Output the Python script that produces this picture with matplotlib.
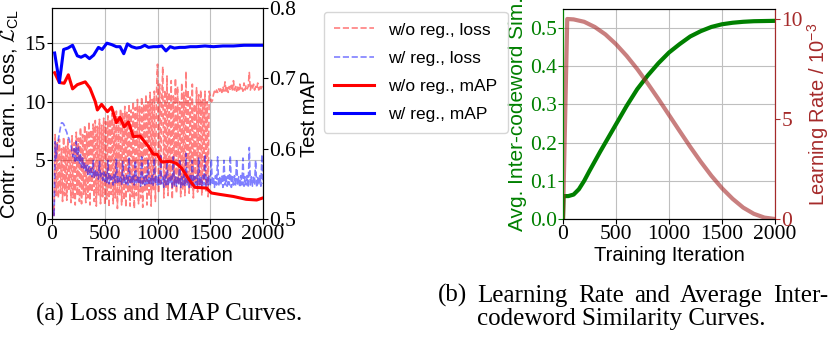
import numpy as np
import matplotlib
matplotlib.use("Agg")
import matplotlib.pyplot as plt

SANS = "Liberation Sans"
SERIF = "Liberation Serif"
plt.rcParams["font.family"] = SERIF
plt.rcParams["mathtext.fontset"] = "custom"
plt.rcParams["mathtext.rm"] = SANS
plt.rcParams["mathtext.it"] = SANS + ":italic"
plt.rcParams["mathtext.cal"] = "cmsy10"

# ---- (a) loss / mAP curves ----
loss_iters = np.arange(0, 2001, 10)

loss_noreg = [
    0.6, 1.0, 0.3, 7.2, 2.0, 6.5, 1.8, 6.8, 2.2, 6.0,
    1.5, 7.0, 2.0, 6.2, 1.6, 6.8, 2.4, 5.9, 1.4, 7.1,
    1.8, 6.5, 1.2, 7.4, 2.0, 6.9, 1.5, 7.8, 1.3, 7.2,
    2.1, 8.0, 1.4, 7.5, 1.8, 8.3, 1.2, 7.6, 2.3, 8.1,
    1.5, 8.4, 1.1, 7.9, 2.0, 8.5, 1.3, 8.0, 1.9, 8.6,
    1.2, 8.3, 1.7, 8.8, 1.0, 8.5, 2.1, 9.0, 1.3, 8.7,
    1.8, 9.2, 0.9, 8.8, 2.0, 9.4, 1.2, 9.0, 1.6, 9.6,
    1.0, 9.1, 2.2, 9.8, 1.1, 9.3, 1.9, 10.0, 0.9, 9.5,
    2.0, 10.2, 1.3, 9.6, 1.8, 10.4, 1.0, 9.8, 2.3, 10.6,
    1.2, 10.0, 1.9, 10.8, 1.1, 10.2, 2.4, 10.9, 1.5, 10.5,
    13.2, 2.2, 11.5, 3.0, 10.2, 13.0, 1.8, 11.0, 2.6, 12.2,
    2.0, 10.8, 3.2, 11.8, 1.7, 10.5, 2.8, 12.0, 2.2, 11.3,
    3.0, 10.0, 1.9, 11.6, 2.5, 10.8, 2.0, 12.6, 3.1, 11.0,
    2.2, 10.4, 2.7, 11.5, 1.8, 9.8, 3.0, 11.2, 2.3, 10.6,
    2.8, 11.0, 2.0, 10.2, 3.2, 10.9, 2.4, 10.0, 1.9, 10.9,
    10.4, 10.0, 10.1, 10.6, 10.9, 10.7, 11.0, 10.8, 11.1, 10.9,
    11.2, 10.8, 11.3, 10.9, 11.7, 10.9, 11.2, 10.8, 11.3, 11.0,
    11.4, 10.9, 11.8, 11.0, 11.3, 10.9, 11.4, 11.0, 11.5, 11.1,
    11.3, 10.9, 11.6, 11.0, 11.4, 11.1, 11.3, 12.5, 11.0, 11.4,
    11.1, 11.5, 11.0, 11.3, 11.1, 11.6, 11.0, 11.4, 11.1, 11.3,
    11.2,
]

loss_reg = [
    1.5, 0.8, 0.2, 6.6, 5.2, 6.3, 6.8, 7.3, 7.8, 8.2,
    8.2, 8.1, 7.9, 7.6, 7.4, 7.0, 6.9, 6.5, 6.3, 5.7,
    5.3, 6.0, 4.8, 6.6, 5.0, 6.2, 4.7, 5.5, 4.4, 5.2,
    4.2, 4.8, 4.0, 4.6, 3.8, 4.5, 3.8, 4.3, 3.6, 5.0,
    3.5, 4.2, 3.6, 4.0, 3.4, 4.9, 3.5, 3.9, 3.3, 4.0,
    3.2, 3.8, 3.1, 5.0, 3.0, 3.7, 3.2, 3.6, 2.9, 3.8,
    3.1, 5.1, 3.0, 3.6, 3.2, 3.7, 2.9, 4.9, 3.1, 3.6,
    3.0, 3.7, 2.9, 5.2, 3.1, 3.6, 3.0, 3.8, 2.9, 5.0,
    3.1, 3.6, 3.0, 3.7, 2.8, 5.3, 3.0, 3.6, 2.9, 3.7,
    3.0, 5.1, 2.9, 3.6, 3.0, 3.7, 2.8, 5.2, 3.0, 3.6,
    2.9, 3.7, 2.8, 5.4, 3.0, 3.6, 2.7, 3.8, 2.9, 5.0,
    2.8, 3.6, 3.0, 3.7, 2.7, 5.3, 2.9, 3.6, 2.8, 3.7,
    2.9, 5.1, 2.7, 3.6, 2.9, 3.8, 2.8, 5.6, 2.9, 3.6,
    2.7, 3.7, 2.9, 5.0, 2.8, 3.6, 2.9, 3.7, 2.7, 5.2,
    2.9, 3.6, 2.8, 3.7, 2.9, 5.5, 2.7, 3.6, 2.9, 3.7,
    2.8, 5.1, 2.9, 3.6, 2.7, 3.7, 2.9, 5.3, 2.8, 3.6,
    2.9, 3.7, 2.7, 5.0, 2.9, 3.6, 2.8, 3.7, 2.9, 5.4,
    2.7, 3.6, 2.9, 3.7, 2.8, 5.1, 2.9, 3.6, 2.7, 3.7,
    2.9, 5.2, 2.8, 3.6, 2.9, 3.7, 2.7, 6.1, 2.9, 3.6,
    2.8, 3.7, 2.9, 5.0, 2.7, 3.6, 2.9, 3.7, 2.8, 5.5,
    3.0,
]

map_reg_iters = [25, 70, 110, 150, 195, 240, 275, 315, 355, 395, 440, 475, 520,
                 565, 610, 645, 680, 715, 755, 800, 840, 880, 915, 960, 1000,
                 1040, 1080, 1120, 1160, 1210, 1260, 1310, 1370, 1450, 1530,
                 1620, 1720, 1820, 1910, 2000]
map_reg = [0.736, 0.694, 0.741, 0.743, 0.747, 0.732, 0.730, 0.733, 0.728, 0.733,
           0.744, 0.741, 0.750, 0.748, 0.745, 0.745, 0.735, 0.749, 0.745, 0.743,
           0.744, 0.747, 0.744, 0.745, 0.745, 0.746, 0.739, 0.745, 0.743, 0.744,
           0.744, 0.745, 0.745, 0.746, 0.745, 0.746, 0.746, 0.747, 0.747, 0.747]

map_noreg_iters = [25, 70, 115, 155, 195, 240, 315, 360, 410, 430, 470, 525, 565,
                   610, 645, 685, 725, 770, 835, 915, 960, 995, 1040, 1120, 1180,
                   1230, 1290, 1355, 1465, 1510, 1590, 1720, 1840, 1940, 2000]
map_noreg = [0.708, 0.694, 0.693, 0.705, 0.685, 0.691, 0.695, 0.686, 0.667, 0.655,
             0.663, 0.6525, 0.659, 0.637, 0.6445, 0.631, 0.638, 0.617, 0.618, 0.603,
             0.592, 0.592, 0.581, 0.582, 0.579, 0.572, 0.558, 0.545, 0.544, 0.537,
             0.535, 0.532, 0.528, 0.527, 0.530]

# ---- (b) learning rate / codeword similarity ----
lr_iters = [0, 40, 100, 200, 300, 400, 500, 600, 700, 800, 900, 1000, 1100,
            1200, 1300, 1400, 1500, 1600, 1700, 1800, 1900, 2000]
lr = [0.0, 10.0, 9.98, 9.86, 9.60, 9.23, 8.74, 8.16, 7.50, 6.77, 6.00, 5.20,
      4.40, 3.61, 2.86, 2.16, 1.54, 1.01, 0.57, 0.26, 0.07, 0.0]

sim_iters = [0, 5, 50, 100, 150, 200, 250, 300, 350, 400, 450, 500, 550, 600,
             700, 800, 900, 1000, 1100, 1200, 1300, 1400, 1500, 1600, 1700,
             1800, 1900, 2000]
sim = [0.0, 0.060, 0.060, 0.064, 0.078, 0.100, 0.126, 0.151, 0.176, 0.200,
       0.224, 0.248, 0.272, 0.296, 0.340, 0.376, 0.408, 0.436, 0.458, 0.478,
       0.492, 0.503, 0.510, 0.514, 0.5165, 0.518, 0.5185, 0.519]

caption_a = "(a) Loss and MAP Curves."
caption_b1 = ["(b)", "Learning", "Rate", "and", "Average", "Inter-"]
caption_b2 = "codeword Similarity Curves."

TICK = 15.5
LAB = 14.5

fig = plt.figure(figsize=(8.3, 3.45), dpi=100)

ax = fig.add_axes([52/830, 1-219/345, 211/830, 211/345])
ax2 = ax.twinx()
l1, = ax.plot(loss_iters, loss_noreg, "--", color="red", alpha=0.5, lw=1.2,
              label="w/o reg., loss")
l2, = ax.plot(loss_iters, loss_reg, "--", color="blue", alpha=0.5, lw=1.2,
              label="w/ reg., loss")
l3, = ax2.plot(map_noreg_iters, map_noreg, color="red", lw=2.2, label="w/o reg., mAP")
l4, = ax2.plot(map_reg_iters, map_reg, color="blue", lw=2.2, label="w/ reg., mAP")
ax.set_xlim(0, 2000)
ax.set_ylim(0, 18)
ax2.set_ylim(0.5, 0.8)
ax.set_xticks([0, 500, 1000, 1500, 2000])
ax.set_yticks([0, 5, 10, 15])
ax2.set_yticks([0.5, 0.6, 0.7, 0.8])
ax.grid(True, color="0.75", lw=0.8)
ax.set_xlabel("Training Iteration", fontsize=LAB, family=SANS, labelpad=1)
ax.set_ylabel(r"Contr. Learn. Loss, $\mathcal{L}_{\rm CL}$", fontsize=LAB,
              family=SANS, labelpad=2)
ax2.set_ylabel("Test mAP", fontsize=LAB, family=SANS, labelpad=3)
for a in (ax, ax2):
    a.tick_params(labelsize=TICK, pad=1)

fig.legend(handles=[l1, l2, l3, l4], loc="upper left",
           bbox_to_anchor=(324/830, 1-12/345), borderaxespad=0,
           prop={"family": SANS, "size": 12.5}, handlelength=2.3,
           labelspacing=0.75, borderpad=0.6)

bx = fig.add_axes([563/830, 1-219/345, 212/830, 210/345])
bx2 = bx.twinx()
bx.plot(sim_iters, sim, color="green", lw=3)
bx2.plot(lr_iters, lr, color="brown", alpha=0.6, lw=3)
bx.set_xlim(0, 2000)
bx.set_ylim(0, 0.55)
bx2.set_ylim(0, 10.5)
bx.set_xticks([0, 500, 1000, 1500, 2000])
bx.set_yticks([0.0, 0.1, 0.2, 0.3, 0.4, 0.5])
bx.set_yticklabels(["0.0", "0.1", "0.2", "0.3", "0.4", "0.5"])
bx2.set_yticks([0, 5, 10])
bx.grid(True, color="0.75", lw=0.8)
bx.set_xlabel("Training Iteration", fontsize=LAB, family=SANS, labelpad=1)
bx.set_ylabel("Avg. Inter-codeword Sim.", fontsize=15, family=SANS,
              color="green", labelpad=2)
bx2.set_ylabel(r"Learning Rate / $10^{-3}$", fontsize=LAB, family=SANS,
               color="brown", labelpad=2)
for a in (bx, bx2):
    a.tick_params(labelsize=TICK, pad=1)
    a.spines["left"].set_color("green")
    a.spines["right"].set_color("brown")
bx.tick_params(axis="y", colors="green")
bx2.tick_params(axis="y", colors="brown")

# captions; first line of (b) is justified like the paper's text
fig.text(169/830, 1-314/345, caption_a, fontsize=18, ha="center", va="center")
renderer = fig.canvas.get_renderer()
words = [fig.text(0, 1-302/345, w, fontsize=18, va="baseline") for w in caption_b1]
widths = [w.get_window_extent(renderer).width for w in words]
x0, x1 = 438, 828
gap = (x1 - x0 - sum(widths)) / (len(words) - 1)
x = x0
for w, wd in zip(words, widths):
    w.set_x(x / 830)
    x += wd + gap
fig.text(621/830, 1-325/345, caption_b2, fontsize=18, ha="center", va="baseline")

fig.savefig("out.png", dpi=100)
